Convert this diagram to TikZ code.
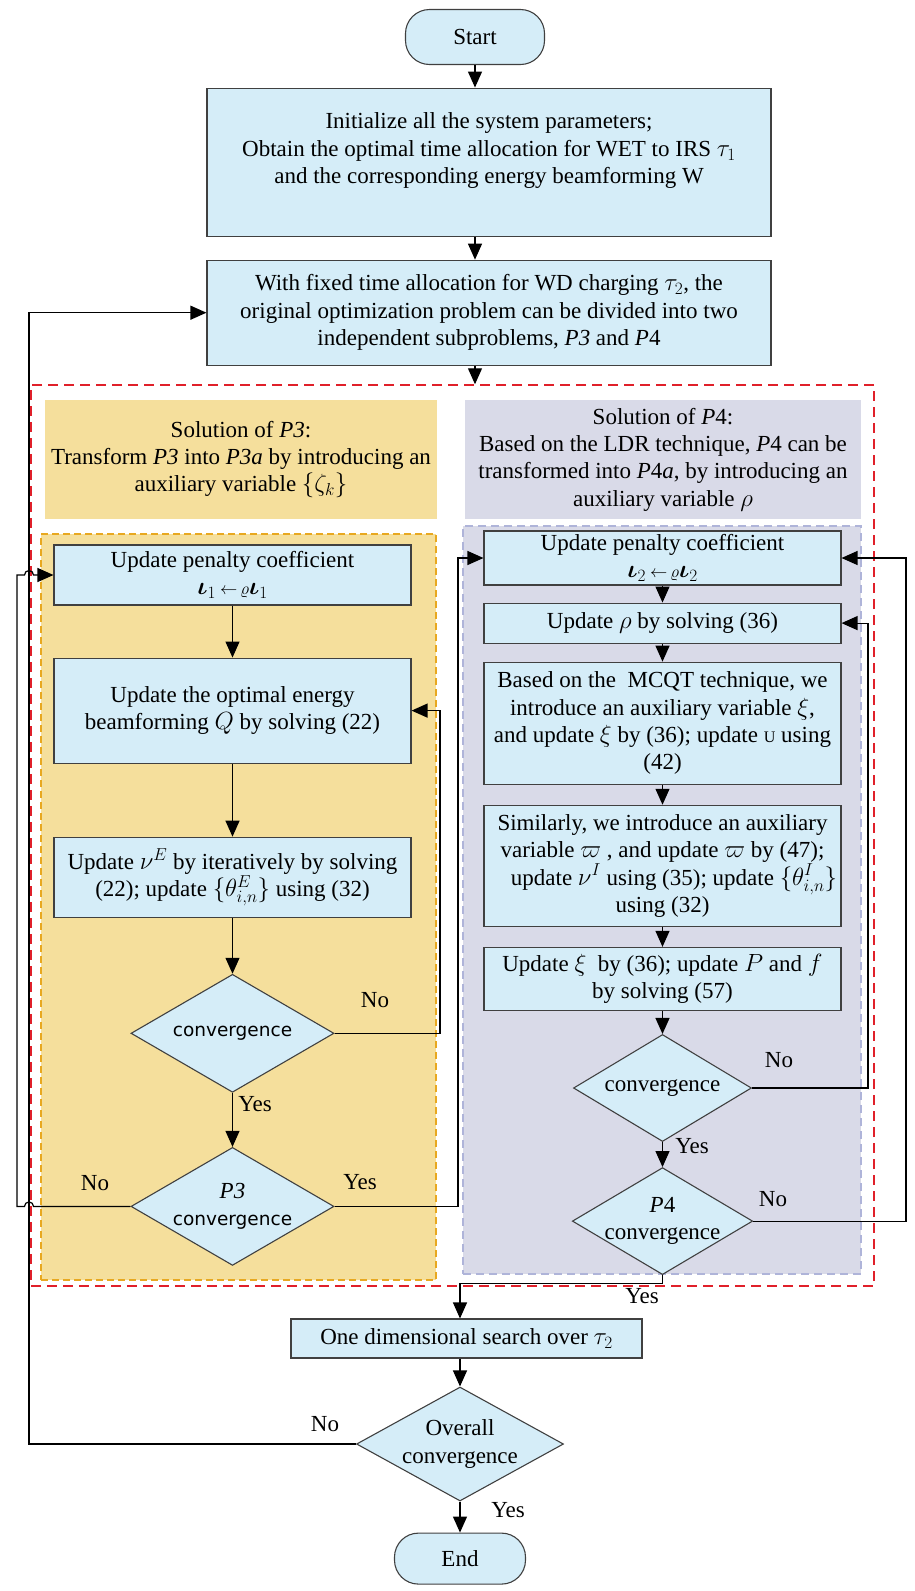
\documentclass[tikz,border=0pt]{standalone}
\usepackage{amsmath}
\usepackage{fontspec}
\setmainfont{Liberation Serif}
\newfontfamily\convfont{DejaVu Sans}
\usetikzlibrary{arrows.meta,positioning,shapes.geometric}
\definecolor{boxblue}{HTML}{D5EDF8}
\definecolor{linegray}{HTML}{404040}
\definecolor{goldfill}{HTML}{F5DF9C}
\definecolor{goldline}{HTML}{E8A820}
\definecolor{lilacfill}{HTML}{D9DAE8}
\definecolor{lilacline}{HTML}{AFB4D9}
\definecolor{framered}{HTML}{E0202A}

\begin{document}
\begin{tikzpicture}[
  x=1pt,y=-1pt,
  node distance=20pt,
  font=\fontsize{23}{27.4}\selectfont,
  terminal/.style={rounded corners=24pt,minimum width=139pt,minimum height=55pt,draw=linegray,fill=boxblue,line width=1.1pt},
  box/.style={minimum width=357pt,inner xsep=2pt,inner ysep=1pt,align=center,draw=linegray,fill=boxblue,line width=1.1pt},
  decision/.style={diamond,aspect=1.7,inner sep=-3pt,align=center,draw=linegray,fill=boxblue,line width=1.1pt},
  header/.style={minimum height=119pt,align=center,inner sep=0pt},
  area/.style={inner sep=0pt,line width=1.2pt},
  arr/.style={-{Triangle[length=16pt,width=14pt]},line width=1.2pt},
  lbl/.style={inner sep=0pt}
]
\useasboundingbox (0,0) rectangle (914,1591);

% dashed frames and headers
\node[area,draw=framered,dash pattern=on 10pt off 6pt,line width=1.5pt,minimum width=843pt,minimum height=901pt] (loop) at (452.5,835.5) {};
\node[area,fill=goldfill,draw=goldline,dash pattern=on 7pt off 4pt,minimum width=395pt,minimum height=746pt] (p3area) at (238.5,907) {};
\node[area,fill=lilacfill,draw=lilacline,dash pattern=on 8pt off 5pt,minimum width=398pt,minimum height=748pt] (p4area) at (662,900) {};
\node[header,fill=goldfill,minimum width=392pt] (p3head) at (241,459.5) {Solution of \textit{P3}:\\ Transform \textit{P3} into \textit{P3a} by introducing an\\ auxiliary variable $\{\zeta_k\}$};
\node[header,fill=lilacfill,minimum width=396pt] (p4head) at (663,459.5) {Solution of \textit{P}4:\\ Based on the LDR technique, \textit{P}4 can be\\ transformed into \textit{P}4\textit{a}, by introducing an\\ auxiliary variable $\rho$};

% main column
\node[terminal] (start) at (475,37) {Start};
\node[box,minimum width=564pt,minimum height=148pt,below=22.5pt of start,xshift=14pt] (init) {Initialize all the system parameters;\\ Obtain the optimal time allocation for WET to IRS $\tau_1$\\ and the corresponding energy beamforming W\\ \mbox{}};
\node[box,minimum width=564pt,minimum height=105pt,below=23pt of init] (split) {With fixed time allocation for WD charging $\tau_2$, the\\ original optimization problem can be divided into two\\ independent subproblems, \textit{P3} and \textit{P}4};

% P3 branch
\node[box,minimum height=60pt] (l1) at (232.5,575) {Update penalty coefficient\\ $\boldsymbol{\iota}_1\,{\scriptstyle\leftarrow\,\varrho}\boldsymbol{\iota}_1$};
\node[box,minimum height=105pt,below=52pt of l1] (l2) {Update the optimal energy\\ beamforming $Q$ by solving (22)};
\node[box,minimum height=80pt,below=73pt of l2] (l3) {Update $\nu^{E}$ by iteratively by solving\\ (22); update $\{\theta^{E}_{i,n}\}$ using (32)};
\node[decision,minimum width=203pt,minimum height=118pt,below=56pt of l3] (d1) {\convfont\fontsize{18.5}{22}\selectfont convergence};
\node[decision,minimum width=203pt,minimum height=118pt,below=54pt of d1] (d2) {\textit{P3}\\ \convfont\fontsize{18.5}{22}\selectfont convergence};

% P4 branch
\node[box,minimum height=54pt] (r1) at (662.5,558) {Update penalty coefficient\\ $\boldsymbol{\iota}_2\,{\scriptstyle\leftarrow\,\varrho}\boldsymbol{\iota}_2$};
\node[box,minimum height=40pt,below=17pt of r1] (r2) {Update $\rho$ by solving (36)};
\node[box,minimum height=122pt,below=18pt of r2] (r3) {Based on the \ MCQT technique, we\\ introduce an auxiliary variable $\xi$,\\ and update $\xi$ by (36); update \scalebox{0.7}{U} using\\ (42)};
\node[box,minimum height=121pt,below=20pt of r3] (r4) {Similarly, we introduce an auxiliary\\ variable $\varpi$ , and update $\varpi$ by (47);\\ \quad update $\nu^{I}$ using (35); update $\{\theta^{I}_{i,n}\}$\\ using (32)};
\node[box,minimum height=63pt,below=20pt of r4] (r5) {Update $\xi$ \ by (36); update $P$ and $f$\\ by solving (57)};
\node[decision,minimum width=178pt,minimum height=107pt,below=23pt of r5] (d3) {convergence};
\node[decision,minimum width=178pt,minimum height=107pt,below=25pt of d3] (d4) {\textit{P}4\\ convergence};

% after the loop
\node[box,minimum width=351pt,minimum height=39pt] (search) at (466.5,1338.5) {One dimensional search over $\tau_2$};
\node[decision,minimum width=207pt,minimum height=114pt] (overall) at (460,1444) {Overall\\ convergence};
\node[terminal,minimum width=131pt,minimum height=51pt,below=31pt of overall] (done) {End};

% yes / no labels
\node[lbl] (no1) at (375,1000) {No};
\node[lbl] (yes1) at (255,1104) {Yes};
\node[lbl] (no2) at (95,1183) {No};
\node[lbl] (yes2) at (360,1182) {Yes};
\node[lbl] (no3) at (779,1060) {No};
\node[lbl] (yes3) at (692,1146) {Yes};
\node[lbl] (no4) at (773,1199) {No};
\node[lbl] (yes4) at (642,1296) {Yes};
\node[lbl] (no5) at (325,1424) {No};
\node[lbl] (yes5) at (508,1510) {Yes};

% rails for the feedback lines
\coordinate (railA) at (29,0);
\coordinate (railB) at (17,0);
\coordinate (hopL) at (24.5,0);
\coordinate (hopR) at (33.5,0);
\coordinate (railC) at (440,0);
\coordinate (railD) at (458,0);
\coordinate (railE) at (868,0);
\coordinate (railF) at (906,0);

\draw[arr] (start) -- (start |- init.north);
\draw[arr] (init.south -| start) -- (split.north -| start);
\draw[arr] (split.south -| start) -- (start |- loop.north);
\draw[arr] (l1) -- (l2);
\draw[arr] (l2) -- (l3);
\draw[arr] (l3) -- (d1);
\draw[arr] (d1) -- (d2);
\draw[arr] (d1.east) -- (d1.east -| railC) |- (l2.east);
\draw[arr] (d2.east) -- (d2.east -| railD) |- (r1.west);
\draw[arr] (d2.west) -- (d2.west -| hopR) arc[start angle=0,end angle=180,radius=4.5pt] -- (d2.west -| railB) |- (l1.west -| hopL) arc[start angle=180,end angle=0,radius=4.5pt] -- (l1.west);
\draw[arr] (r1) -- (r2);
\draw[arr] (r2) -- (r3);
\draw[arr] (r3) -- (r4);
\draw[arr] (r4) -- (r5);
\draw[arr] (r5) -- (d3);
\draw[arr] (d3) -- (d4);
\draw[arr] (d3.east) -- (d3.east -| railE) |- (r2.east);
\draw[arr] (d4.east) -- (d4.east -| railF) |- (r1.east);
\draw[arr] (d4.south) -- ++(0,8) -| (overall.north |- search.north);
\draw[arr] (search.south -| overall) -- (overall.north);
\draw[arr] (overall) -- (done);
\draw[arr] (overall.west) -- (overall.west -| railA) |- (split.west);
\end{tikzpicture}
\end{document}
